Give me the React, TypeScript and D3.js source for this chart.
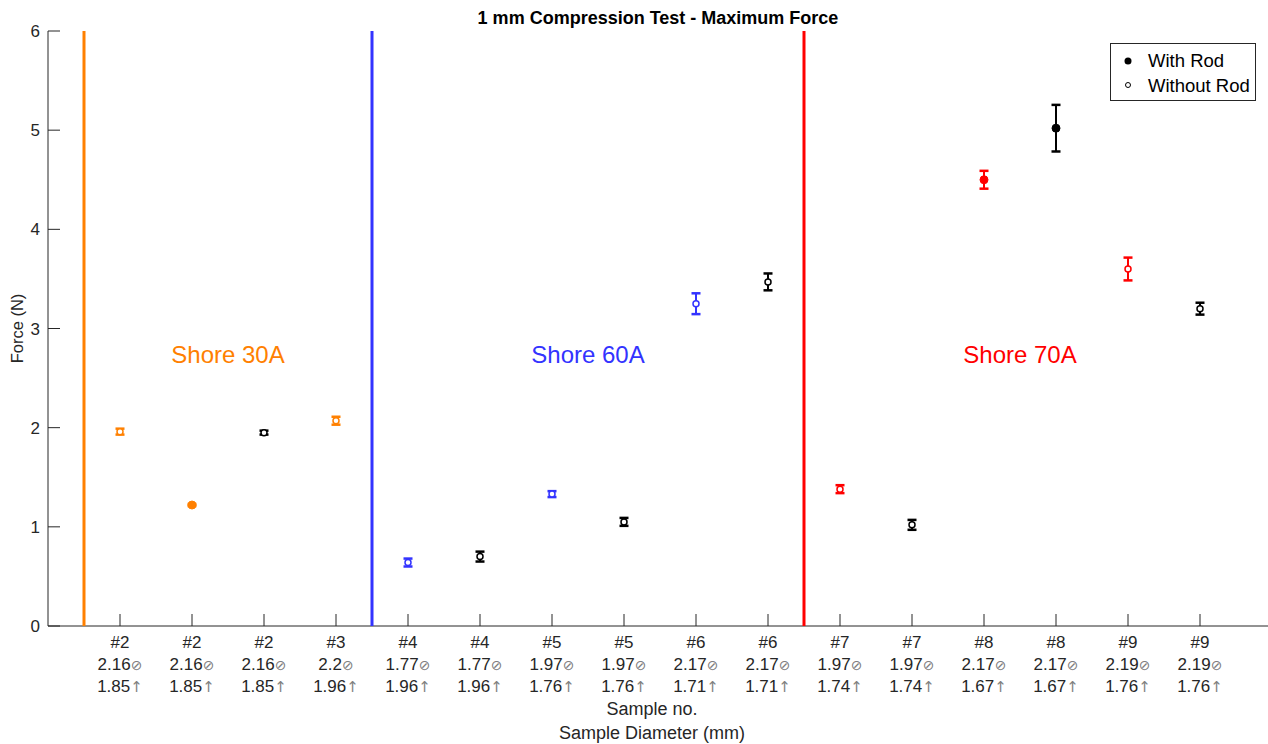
import * as d3 from "d3";

const sampleNo = ["#2", "#2", "#2", "#3", "#4", "#4", "#5", "#5", "#6", "#6", "#7", "#7", "#8", "#8", "#9", "#9"];
const diameter = ["2.16", "2.16", "2.16", "2.2", "1.77", "1.77", "1.97", "1.97", "2.17", "2.17", "1.97", "1.97", "2.17", "2.17", "2.19", "2.19"];
const height = ["1.85", "1.85", "1.85", "1.96", "1.96", "1.96", "1.76", "1.76", "1.71", "1.71", "1.74", "1.74", "1.67", "1.67", "1.76", "1.76"];
const force = [1.96, 1.22, 1.95, 2.07, 0.64, 0.7, 1.33, 1.05, 3.25, 3.47, 1.38, 1.02, 4.5, 5.02, 3.6, 3.2];
const forceErr = [0.03, 0.01, 0.02, 0.04, 0.04, 0.05, 0.03, 0.04, 0.105, 0.085, 0.04, 0.05, 0.09, 0.235, 0.115, 0.06];
const hardness = ["30A", "30A", "black", "30A", "60A", "black", "60A", "black", "60A", "black", "70A", "black", "70A", "black", "70A", "black"];
const withRod = [false, true, false, false, false, false, false, false, false, false, false, false, true, true, false, false];

const shoreNames = ["Shore 30A", "Shore 60A", "Shore 70A"];
const shoreKeys = ["30A", "60A", "70A"];
const shoreDividers = [0.5, 4.5, 10.5];
const shoreLabelX = [2.5, 7.5, 13.5];
const shoreLabelY = 2.73;
const yTicks = [0, 1, 2, 3, 4, 5, 6];

const colorOf: Record<string, string> = {
  "30A": "#FF8000",
  "60A": "#3333FF",
  "70A": "#FF0000",
  black: "#000000",
};

const W = 1268;
const H = 744;
const left = 48;
const top = 31;
const bottom = 626;
const font = "'Liberation Sans', Arial, Helvetica, sans-serif";
const symFont = "'DejaVu Sans', sans-serif";

export default function App() {
  const x = d3.scaleLinear().domain([0, 17]).range([left, left + 72 * 17]);
  const y = d3.scaleLinear().domain([0, 6]).range([bottom, top]);
  const plotCenter = (left + 1256) / 2;

  return (
    <svg width={W} height={H} style={{ position: "absolute", left: 0, top: 0, background: "#fff" }} fontFamily={font}>
      <text x={plotCenter + 6} y={24} textAnchor="middle" fontSize={18} fontWeight="bold" fill="#000">
        1 mm Compression Test - Maximum Force
      </text>

      {/* axes */}
      <line x1={left} x2={left} y1={top} y2={bottom} stroke="#262626" strokeWidth={1} />
      <line x1={left} x2={W} y1={bottom} y2={bottom} stroke="#262626" strokeWidth={1} />
      {yTicks.map((t) => (
        <g key={"y" + t}>
          <line x1={left} x2={left + 12} y1={y(t)} y2={y(t)} stroke="#262626" />
          <text x={left - 8} y={y(t) + 6} textAnchor="end" fontSize={17} fill="#262626">
            {t}
          </text>
        </g>
      ))}
      <text transform={`translate(23,${(top + bottom) / 2}) rotate(-90)`} textAnchor="middle" fontSize={16.5} fill="#262626">
        Force (N)
      </text>

      {sampleNo.map((s, i) => {
        const cx = x(i + 1);
        return (
          <g key={"x" + i}>
            <line x1={cx} x2={cx} y1={bottom} y2={bottom - 12} stroke="#262626" />
            <text x={cx} y={648} textAnchor="middle" fontSize={17} fill="#262626">{s}</text>
            <text x={cx} y={670} textAnchor="middle" fontSize={17} fill="#262626">
              {diameter[i]}
              <tspan fill="#808080" fontSize={14} fontFamily={symFont}>⊘</tspan>
            </text>
            <text x={cx} y={692} textAnchor="middle" fontSize={17} fill="#262626">
              {height[i]}
              <tspan fill="#808080" fontSize={15} fontFamily={symFont}>↑</tspan>
            </text>
          </g>
        );
      })}
      <text x={plotCenter} y={715} textAnchor="middle" fontSize={18} fill="#262626">Sample no.</text>
      <text x={plotCenter} y={739} textAnchor="middle" fontSize={18} fill="#262626">Sample Diameter (mm)</text>

      {/* shore dividers and labels */}
      {shoreDividers.map((d, k) => (
        <line key={"d" + k} x1={x(d)} x2={x(d)} y1={top} y2={bottom} stroke={colorOf[shoreKeys[k]]} strokeWidth={3} />
      ))}
      {shoreNames.map((n, k) => (
        <text key={"s" + k} x={x(shoreLabelX[k])} y={y(shoreLabelY) + 8} textAnchor="middle" fontSize={24} fill={colorOf[shoreKeys[k]]}>
          {n}
        </text>
      ))}

      {/* error bars */}
      {force.map((f, i) => {
        const cx = x(i + 1);
        const c = colorOf[hardness[i]];
        const y1 = y(f + forceErr[i]);
        const y0 = y(f - forceErr[i]);
        return (
          <g key={"e" + i}>
            <line x1={cx} x2={cx} y1={y1} y2={y0} stroke={c} strokeWidth={2} />
            <line x1={cx - 4.5} x2={cx + 4.5} y1={y1} y2={y1} stroke={c} strokeWidth={2.5} />
            <line x1={cx - 4.5} x2={cx + 4.5} y1={y0} y2={y0} stroke={c} strokeWidth={2.5} />
            {withRod[i] ? (
              <circle cx={cx} cy={y(f)} r={4} fill={c} stroke={c} strokeWidth={1} />
            ) : (
              <circle cx={cx} cy={y(f)} r={3} fill="#fff" stroke={c} strokeWidth={1.5} />
            )}
          </g>
        );
      })}

      {/* legend */}
      <rect x={1110.5} y={43.5} width={145} height={57} fill="#fff" stroke="#262626" strokeWidth={1} />
      <circle cx={1128} cy={61} r={3.5} fill="#000" />
      <text x={1148} y={67} fontSize={18.5} fill="#000">With Rod</text>
      <circle cx={1128} cy={85} r={2.5} fill="#fff" stroke="#000" strokeWidth={1} />
      <text x={1148} y={92} fontSize={18.5} fill="#000">Without Rod</text>
    </svg>
  );
}
